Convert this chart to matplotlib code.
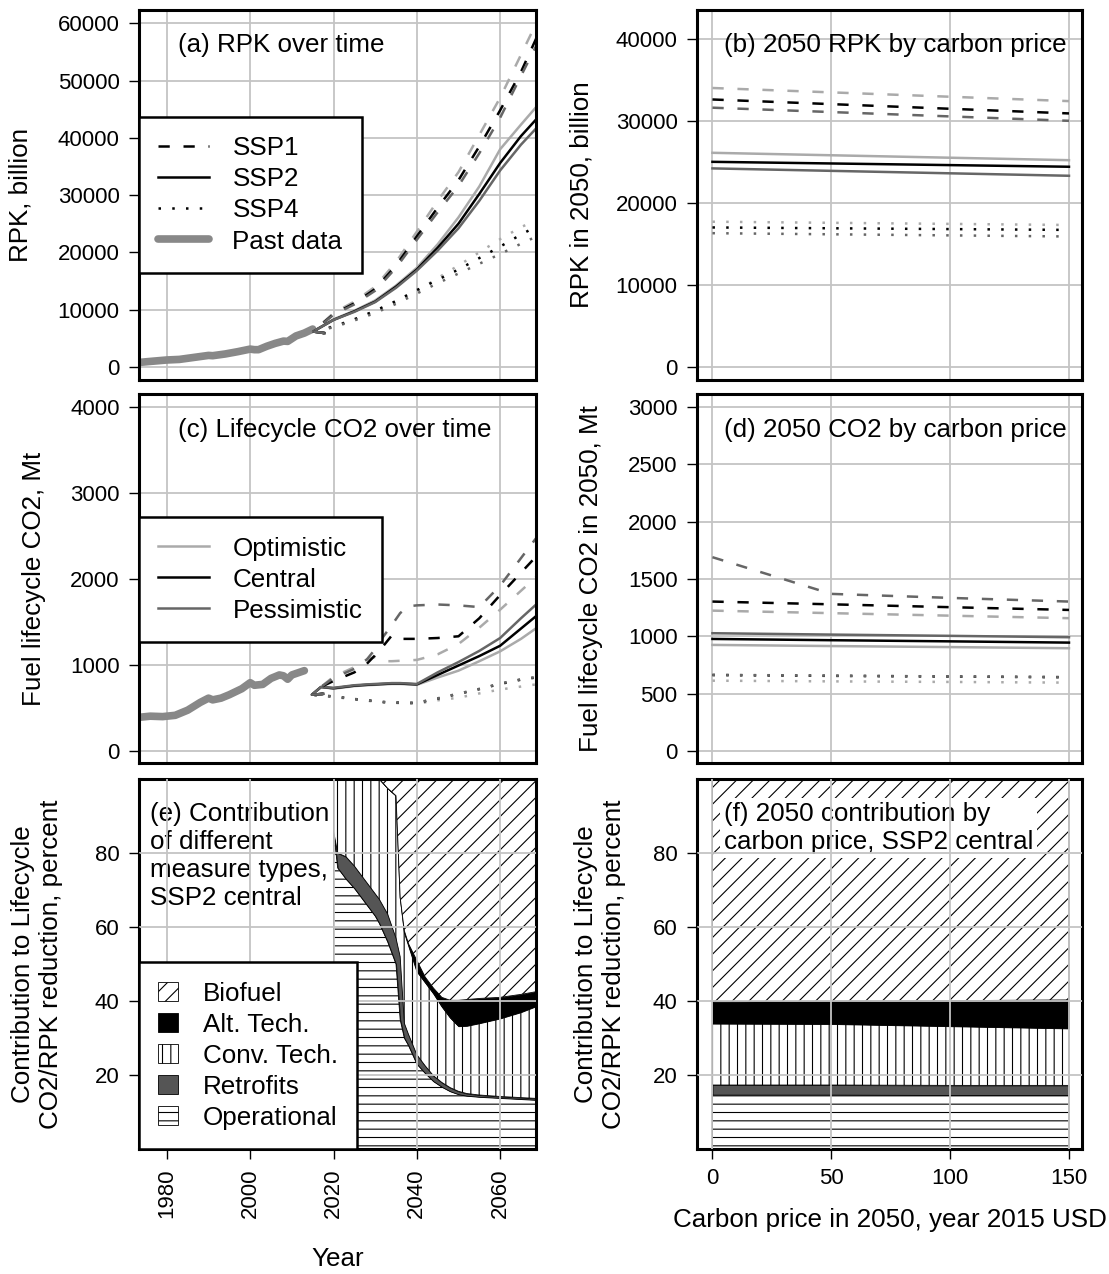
import matplotlib
matplotlib.use("Agg")
import matplotlib.pyplot as plt
from matplotlib.lines import Line2D
from matplotlib.patches import Patch

plt.rcParams['font.family'] = ['Liberation Sans', 'DejaVu Sans']
plt.rcParams['font.size'] = 18.7
plt.rcParams['xtick.labelsize'] = 16
plt.rcParams['ytick.labelsize'] = 16
plt.rcParams['hatch.linewidth'] = 0.8

LIGHT = '#aaaaaa'
DARK = '#666666'
PAST = '#888888'
GRID = '#c4c4c4'
RETRO = '#555555'
shades = [LIGHT, 'black', DARK]

# ---------------- (a) RPK over time ----------------
past_years_a = [1973, 1976, 1980, 1983, 1986, 1990, 1991, 1994, 1997, 2000, 2001, 2002,
                2004, 2006, 2008, 2009, 2011, 2013, 2015]
past_rpk = [750, 950, 1200, 1300, 1600, 2000, 1950, 2250, 2650, 3100, 3000, 3000,
            3600, 4100, 4500, 4450, 5400, 5900, 6600]

fut_years_a = [2017.8, 2015.1, 2020, 2025, 2030, 2035, 2040, 2045, 2050, 2055, 2060, 2065, 2070]
rpk_ssp1 = [
    [5900, 6170, 9400, 11400, 14000, 18300, 23600, 29000, 34000, 40500, 47000, 54500, 62000],
    [5900, 6170, 9200, 11100, 13600, 17700, 22800, 27800, 32600, 38500, 44800, 51500, 59500],
    [5900, 6170, 9100, 10900, 13300, 17300, 22200, 27000, 31600, 37300, 43500, 50800, 58000],
]
rpk_ssp2 = [
    [5900, 6170, 8300, 9800, 11600, 14200, 17300, 21400, 26100, 31500, 38000, 42300, 46500],
    [5900, 6170, 8200, 9700, 11400, 14000, 17000, 20800, 25000, 30200, 35600, 40300, 44300],
    [5900, 6170, 8200, 9600, 11300, 13800, 16800, 20300, 24200, 29000, 34300, 38800, 42700],
]
rpk_ssp4 = [
    [5900, 6170, 7100, 8300, 9700, 11300, 13200, 15500, 17700, 20000, 22300, 24400, 26000],
    [5900, 6170, 7000, 8300, 9800, 11500, 13400, 15200, 17000, 19000, 21000, 23100, 25000],
    [5900, 6170, 6900, 8100, 9400, 11000, 12800, 14600, 16300, 18000, 19700, 21500, 23200],
]

# ---------------- (b) 2050 RPK by carbon price ----------------
price_b = [0, 150]
rpk2050_ssp1 = [[34000, 32400], [32600, 30900], [31600, 30000]]
rpk2050_ssp2 = [[26100, 25200], [25000, 24400], [24200, 23300]]
rpk2050_ssp4 = [[17700, 17300], [17000, 16700], [16300, 15900]]

# ---------------- (c) Lifecycle CO2 over time ----------------
past_years_c = [1973, 1976, 1979, 1982, 1985, 1988, 1990, 1991, 1993, 1995, 1998, 2000,
                2001, 2003, 2005, 2007, 2008, 2009, 2010, 2013]
past_co2 = [385, 400, 395, 410, 470, 560, 610, 590, 610, 650, 720, 790,
            760, 770, 840, 880, 870, 830, 880, 930]

fut_years_c = [2017.5, 2014.8, 2017, 2020, 2025, 2028, 2030, 2032, 2034, 2036, 2038, 2040,
               2045, 2050, 2055, 2060, 2065, 2070]
co2_ssp1 = [
    [660, 650, 740, 860, 970, 1060, 1090, 1040, 1040, 1045, 1050, 1055,
     1120, 1240, 1430, 1640, 1860, 2080],
    [660, 650, 740, 810, 910, 1010, 1110, 1220, 1340, 1300, 1300, 1300,
     1310, 1330, 1540, 1810, 2070, 2330],
    [660, 650, 740, 845, 950, 1060, 1180, 1330, 1460, 1600, 1680, 1690,
     1700, 1690, 1670, 1920, 2240, 2560],
]
co2_ssp2 = [
    [660, 650, 740, 720, 750, 760, 765, 770, 775, 775, 770, 765,
     850, 930, 1040, 1155, 1300, 1470],
    [660, 650, 740, 725, 755, 765, 770, 775, 780, 780, 775, 770,
     880, 990, 1100, 1220, 1420, 1620],
    [660, 650, 740, 730, 760, 770, 775, 780, 785, 785, 780, 775,
     910, 1030, 1160, 1310, 1540, 1760],
]
co2_ssp4 = [
    [660, 650, 640, 625, 595, 580, 570, 562, 557, 552, 548, 545,
     585, 615, 665, 710, 745, 780],
    [660, 650, 640, 630, 600, 585, 575, 565, 560, 557, 555, 555,
     605, 660, 715, 775, 825, 860],
    [660, 650, 640, 630, 600, 585, 575, 565, 560, 557, 555, 557,
     608, 663, 718, 780, 830, 866],
]

# ---------------- (d) 2050 CO2 by carbon price ----------------
price_d = [0, 50, 100, 150]
co2050_ssp1 = [[1224, 1202, 1180, 1158], [1303, 1279, 1254, 1230], [1690, 1370, 1335, 1303]]
co2050_ssp2 = [[925, 915, 906, 896], [977, 966, 956, 945], [1027, 1015, 1004, 992]]
co2050_ssp4 = [[613, 607, 602, 596], [662, 655, 649, 643], [664, 657, 650, 644]]

# ---------------- (e) contribution over time (cumulative boundaries) ----------------
years_e = [2020, 2021, 2023, 2025, 2028, 2030, 2031, 2033, 2035, 2036, 2037, 2038, 2040,
           2042, 2044, 2046, 2048, 2050, 2052, 2055, 2060, 2065, 2070]
oper_top = [86, 76, 73, 70.5, 66, 63, 61, 56, 50, 35, 30, 28, 23,
            20.5, 18.3, 16.8, 15.6, 14.8, 14.4, 14.1, 13.8, 13.5, 13.2]
retro_top = [86, 80, 79, 76.5, 72, 69, 67.5, 63.5, 57, 52, 34, 31, 25.5,
             22.5, 19.8, 18, 16.6, 15.6, 15, 14.6, 14.2, 13.9, 13.6]
conv_top = [100, 100, 100, 100, 100, 100, 100, 97.5, 95.5, 68, 58.5, 55, 48,
            45, 42, 38.5, 35.5, 33.2, 33.3, 34, 35.3, 37, 39.2]
alt_top = [100, 100, 100, 100, 100, 100, 100, 97.5, 95.5, 68, 59, 55.5, 51,
           46.5, 43.5, 41, 40.2, 40.2, 40.4, 40.7, 41, 41.8, 42.8]
total_top = [100] * len(years_e)

# ---------------- (f) 2050 contribution by carbon price ----------------
price_f = [0, 50, 100, 150]
oper_top_f = [14.7, 14.7, 14.6, 14.6]
retro_top_f = [17.3, 17.3, 17.2, 17.2]
conv_top_f = [33.9, 33.8, 33.2, 32.6]
alt_top_f = [39.8, 40.0, 40.1, 40.3]
total_top_f = [100, 100, 100, 100]

DASH = (0, (4.5, 5.5))
DOT = (0, (1, 4.5))
LW = 1.8

fig = plt.figure(figsize=(11.09, 12.74), dpi=100)
L0, LW_AX = 0.1253, 0.358
R0, RW_AX = 0.6285, 0.3472
rows = [(0.7017, 0.2904), (0.4011, 0.2896), (0.0981, 0.2904)]

ax_a = fig.add_axes([L0, rows[0][0], LW_AX, rows[0][1]])
ax_b = fig.add_axes([R0, rows[0][0], RW_AX, rows[0][1]])
ax_c = fig.add_axes([L0, rows[1][0], LW_AX, rows[1][1]])
ax_d = fig.add_axes([R0, rows[1][0], RW_AX, rows[1][1]])
ax_e = fig.add_axes([L0, rows[2][0], LW_AX, rows[2][1]])
ax_f = fig.add_axes([R0, rows[2][0], RW_AX, rows[2][1]])

year_ticks = [1980, 2000, 2020, 2040, 2060]
price_ticks = [0, 50, 100, 150]


def style(ax, xlim, ylim, xticks, yticks, below=True, xlabels=False):
    ax.set_xlim(xlim)
    ax.set_ylim(ylim)
    ax.set_xticks(xticks)
    ax.set_yticks(yticks)
    ax.grid(True, color=GRID, lw=1.3)
    ax.set_axisbelow(below)
    for s in ax.spines.values():
        s.set_linewidth(2.2)
    ax.tick_params(axis='y', direction='out', length=7, width=1, pad=7)
    if xlabels:
        ax.tick_params(axis='x', direction='out', length=7, width=1, pad=7)
    else:
        ax.tick_params(axis='x', length=0, labelbottom=False)


def leg(ax, handles, labels, anchor_y, square=False):
    kw = dict(loc='upper left', bbox_to_anchor=(0, anchor_y), borderaxespad=0,
              fancybox=False, framealpha=1, edgecolor='black', borderpad=0.75,
              handletextpad=0.9, labelspacing=0.27)
    if square:
        kw.update(handlelength=0.75, handleheight=0.75, handletextpad=0.95)
    else:
        kw.update(handlelength=1.95)
    lg = ax.legend(handles, labels, **kw)
    lg.get_frame().set_linewidth(1.8)
    lg.set_zorder(10)
    return lg


# (a)
ax_a.plot(past_years_a, past_rpk, color=PAST, lw=5.5, solid_capstyle='round')
for vals_set, ls in ((rpk_ssp4, DOT), (rpk_ssp2, '-'), (rpk_ssp1, DASH)):
    for vals, col in zip(vals_set, shades):
        ax_a.plot(fut_years_a, vals, color=col, lw=LW, linestyle=ls)
style(ax_a, (1973.3, 2068.6), (-2300, 62300), year_ticks, range(0, 60001, 10000))
ax_a.set_ylabel('RPK, billion')
ax_a.yaxis.set_label_coords(-0.267, 0.5)
ax_a.text(0.098, 0.905, '(a) RPK over time', transform=ax_a.transAxes, va='center')
leg(ax_a,
    [Line2D([], [], color='black', lw=LW, ls=DASH),
     Line2D([], [], color='black', lw=LW),
     Line2D([], [], color='black', lw=LW, ls=DOT),
     Line2D([], [], color=PAST, lw=5.5, solid_capstyle='round')],
    ['SSP1', 'SSP2', 'SSP4', 'Past data'], 0.711)

# (b)
for vals_set, ls in ((rpk2050_ssp4, DOT), (rpk2050_ssp2, '-'), (rpk2050_ssp1, DASH)):
    for vals, col in zip(vals_set, shades):
        ax_b.plot(price_b, vals, color=col, lw=LW, linestyle=ls)
style(ax_b, (-6.5, 155.5), (-1600, 43500), price_ticks, range(0, 40001, 10000))
ax_b.set_ylabel('RPK in 2050, billion')
ax_b.yaxis.set_label_coords(-0.270, 0.5)
ax_b.text(0.07, 0.905, '(b) 2050 RPK by carbon price', transform=ax_b.transAxes, va='center')

# (c)
ax_c.plot(past_years_c, past_co2, color=PAST, lw=5.5, solid_capstyle='round')
for vals_set, ls in ((co2_ssp4, DOT), (co2_ssp2, '-'), (co2_ssp1, DASH)):
    for vals, col in zip(vals_set, shades):
        ax_c.plot(fut_years_c, vals, color=col, lw=LW, linestyle=ls)
style(ax_c, (1973.3, 2068.6), (-145, 4150), year_ticks, range(0, 4001, 1000))
ax_c.set_ylabel('Fuel lifecycle CO2, Mt')
ax_c.yaxis.set_label_coords(-0.234, 0.5)
ax_c.text(0.098, 0.902, '(c) Lifecycle CO2 over time', transform=ax_c.transAxes, va='center')
leg(ax_c,
    [Line2D([], [], color=c, lw=LW) for c in shades],
    ['Optimistic', 'Central', 'Pessimistic'], (763 - 517) / 369)

# (d)
for vals_set, ls in ((co2050_ssp4, DOT), (co2050_ssp2, '-'), (co2050_ssp1, DASH)):
    for vals, col in zip(vals_set, shades):
        ax_d.plot(price_d, vals, color=col, lw=LW, linestyle=ls)
style(ax_d, (-6.5, 155.5), (-105, 3113), price_ticks, range(0, 3001, 500))
ax_d.set_ylabel('Fuel lifecycle CO2 in 2050, Mt')
ax_d.yaxis.set_label_coords(-0.244, 0.5)
ax_d.text(0.07, 0.902, '(d) 2050 CO2 by carbon price', transform=ax_d.transAxes, va='center')

# (e)
layers = [
    (None, oper_top, 'white', '--'),
    (oper_top, retro_top, RETRO, None),
    (retro_top, conv_top, 'white', '||'),
    (conv_top, alt_top, 'black', None),
    (alt_top, total_top, 'white', '//'),
]
for lo, hi, fc, hatch in layers:
    ax_e.fill_between(years_e, 0 if lo is None else lo, hi, facecolor=fc,
                      edgecolor='black', hatch=hatch, lw=0.6)
style(ax_e, (1973.3, 2068.6), (0, 100), year_ticks, [20, 40, 60, 80], below=False, xlabels=True)
for t in ax_e.get_xticklabels():
    t.set_rotation(90)
ax_e.set_ylabel('Contribution to Lifecycle\nCO2/RPK reduction, percent', linespacing=1.24)
ax_e.yaxis.set_label_coords(-0.191, 0.5)
ax_e.set_xlabel('Year')
ax_e.xaxis.set_label_coords(0.5, -0.265)
ax_e.text(0.028, 0.937, '(e) Contribution\nof different\nmeasure types,\nSSP2 central',
          transform=ax_e.transAxes, va='top', linespacing=1.2, zorder=2.2)
leg(ax_e,
    [Patch(facecolor='white', edgecolor='black', hatch='//', lw=0.6),
     Patch(facecolor='black', edgecolor='black', lw=0.6),
     Patch(facecolor='white', edgecolor='black', hatch='||', lw=0.6),
     Patch(facecolor=RETRO, edgecolor='black', lw=0.6),
     Patch(facecolor='white', edgecolor='black', hatch='--', lw=0.6)],
    ['Biofuel', 'Alt. Tech.', 'Conv. Tech.', 'Retrofits', 'Operational'],
    (1149 - 962) / 370, square=True)

# (f)
layers_f = [
    (None, oper_top_f, 'white', '--'),
    (oper_top_f, retro_top_f, RETRO, None),
    (retro_top_f, conv_top_f, 'white', '||'),
    (conv_top_f, alt_top_f, 'black', None),
    (alt_top_f, total_top_f, 'white', '//'),
]
for lo, hi, fc, hatch in layers_f:
    ax_f.fill_between(price_f, 0 if lo is None else lo, hi, facecolor=fc,
                      edgecolor='black', hatch=hatch, lw=0.6)
style(ax_f, (-6.5, 155.5), (0, 100), price_ticks, [20, 40, 60, 80], below=False, xlabels=True)
ax_f.set_ylabel('Contribution to Lifecycle\nCO2/RPK reduction, percent', linespacing=1.24)
ax_f.yaxis.set_label_coords(-0.184, 0.5)
ax_f.set_xlabel('Carbon price in 2050, year 2015 USD')
ax_f.xaxis.set_label_coords(0.5, -0.159)
ax_f.text(0.07, 0.937, '(f) 2050 contribution by\ncarbon price, SSP2 central',
          transform=ax_f.transAxes, va='top', linespacing=1.2, zorder=2.2,
          bbox=dict(boxstyle='square,pad=0.15', facecolor='white', edgecolor='none'))

fig.savefig('out.png', dpi=100)
